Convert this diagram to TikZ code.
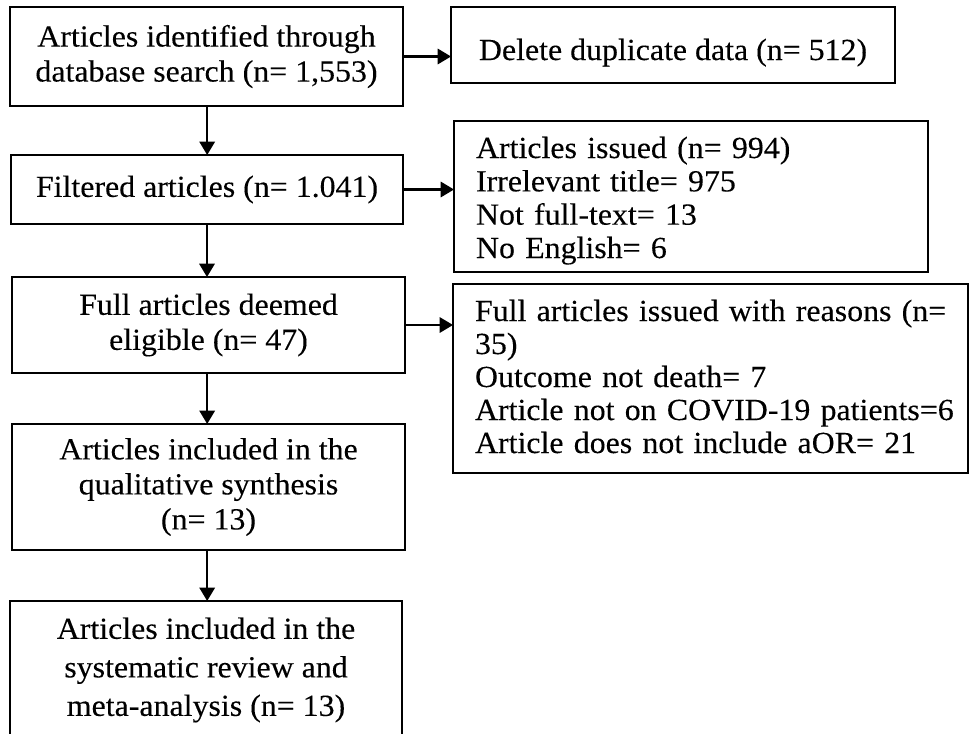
\documentclass[tikz,border=0pt]{standalone}
\usepackage{fontspec}
\setmainfont{Liberation Serif}[FakeStretch=1.04, FakeBold=0.2]
\usetikzlibrary{arrows.meta}
\tikzset{
  box/.style={draw, line width=1.9pt, inner sep=0pt, outer sep=0pt,
    font=\fontsize{23pt}{26.25pt}\selectfont},
  wh/.style 2 args={minimum width={#1*0.75pt}, minimum height={#2*0.75pt}},
  lbox/.style={box, align=left},
  cbox/.style={box, align=center},
  conn/.style={line width=1.6pt, -{Triangle[length=10pt,width=11.5pt]}}
}
\begin{document}
\begin{tikzpicture}[x=0.75pt,y=-0.75pt]
\clip (0,0) rectangle (969,733);
\fill[white] (0,0) rectangle (969,733);
\node[cbox, wh={393}{99}] (b1) at (206.5,56.5) {Articles identified through\\database search (n= 1,553)};
\node[cbox, wh={444}{76}, text height=22.5pt, text depth=0pt] (del) at (673,45) {Delete duplicate data (n= 512)};
\node[cbox, wh={392}{69}] (filt) at (207,189.5) {Filtered articles (n= 1.041)};
\node[lbox, wh={474}{151}, text width={430*0.75pt}, text height=15pt, text depth=72.75pt,
  font=\fontsize{23pt}{25pt}\selectfont] (iss) at (691,196.5)
  {\mbox{Articles issued (n= 994)}\\\mbox{Irrelevant title= 975}\\\mbox{Not full-text= 13}\\\mbox{No English= 6}};
\node[cbox, wh={393}{96}] (deem) at (208.5,325) {Full articles deemed\\eligible (n= 47)};
\node[lbox, wh={515}{189}, text width={471*0.75pt}, text height=15pt, text depth=101.25pt,
  font=\fontsize{23pt}{24.75pt}\selectfont] (rea) at (710.5,378.5)
  {\mbox{Full articles issued with reasons (n=}\\\mbox{35)}\\\mbox{Outcome not death= 7}\\\mbox{Article not on COVID-19 patients=6}\\\mbox{Article does not include aOR= 21}};
\node[cbox, wh={393}{126}] (qual) at (208.5,487) {Articles included in the\\qualitative synthesis\\(n= 13)};
\node[cbox, wh={392}{138}, font=\fontsize{23pt}{28.9pt}\selectfont] (fin) at (206,670) {Articles included in the\\systematic review and\\meta-analysis (n= 13)};
\draw[conn] (b1.east) -- (b1.east -| del.west);
\draw[conn] (filt.east) -- (filt.east -| iss.west);
\draw[conn] (deem.east) -- (deem.east -| rea.west);
\draw[conn] ([xshift=0.5pt]b1.south) -- ([xshift=0.5pt]b1.south |- filt.north);
\draw[conn] (filt.south) -- (filt.south |- deem.north);
\draw[conn] ([xshift=-1pt]deem.south) -- ([xshift=-1pt]deem.south |- qual.north);
\draw[conn] ([xshift=-1pt]qual.south) -- ([xshift=-1pt]qual.south |- fin.north);
\end{tikzpicture}
\end{document}
